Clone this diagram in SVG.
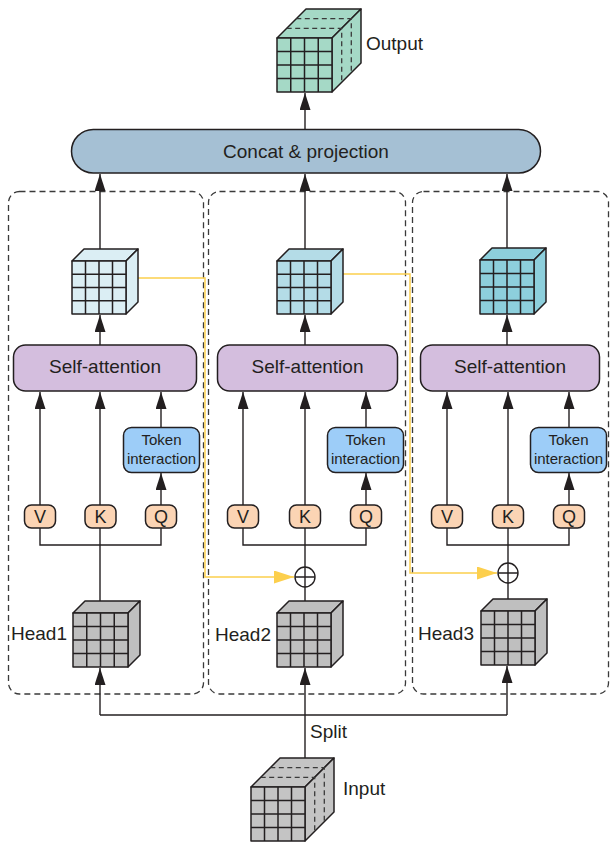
<svg xmlns="http://www.w3.org/2000/svg" width="610" height="843" viewBox="0 0 610 843">
<defs>
<marker id="ah" markerUnits="userSpaceOnUse" viewBox="0 0 17 11" refX="17" refY="5.5" markerWidth="17" markerHeight="11" orient="auto"><path d="M0,0 L17,5.5 L0,11 z" fill="#231f20"/></marker>
<marker id="ay" markerUnits="userSpaceOnUse" viewBox="0 0 20 13" refX="20" refY="6.5" markerWidth="20" markerHeight="13" orient="auto"><path d="M0,0 L20,6.5 L0,13 z" fill="#fccf4d"/></marker>
</defs>
<style>
text{font-family:"Liberation Sans",Arial,sans-serif;fill:#231f20}
.lbl{font-size:19px}
.tk{font-size:15px;text-anchor:middle}
.vkq{font-size:18px;text-anchor:middle}
.cf{stroke:#231f20;stroke-width:1.5;stroke-linejoin:round}
.grid{stroke:#231f20;stroke-width:1.5;fill:none}
.hid{stroke:#3a3a3a;stroke-width:1.3;stroke-dasharray:5 3.5;fill:none}
.con{stroke:#231f20;stroke-width:1.4;fill:none}
.arr{stroke:#231f20;stroke-width:1.4;fill:none;marker-end:url(#ah)}
.yl{stroke:#fccf4d;stroke-width:1.5;fill:none}
.ya{stroke:#fccf4d;stroke-width:1.5;fill:none;marker-end:url(#ay)}
.dbox{fill:none;stroke:#3a3a3a;stroke-width:1.3;stroke-dasharray:6 4}
.sa{fill:#d4bede;stroke:#231f20;stroke-width:1.5}
.tok{fill:#9dcdf8;stroke:#231f20;stroke-width:1.5}
.vb{fill:#fbd4b4;stroke:#231f20;stroke-width:1.5}
</style>

<g id="frames">
<rect class="dbox" x="8.5" y="191.5" width="195" height="502.5" rx="11"/>
<rect class="dbox" x="208.5" y="191.5" width="197" height="502.5" rx="11"/>
<rect class="dbox" x="412.5" y="191.5" width="196" height="502.5" rx="11"/>
</g>

<g id="connectors">
<!-- concat to output -->
<line class="arr" x1="305" y1="129" x2="305" y2="93"/>
<!-- cubes to concat -->
<line class="arr" x1="100" y1="249" x2="100" y2="174"/>
<line class="arr" x1="305" y1="249" x2="305" y2="174"/>
<line class="arr" x1="507" y1="248" x2="507" y2="174"/>
<!-- self-attention to cubes -->
<line class="arr" x1="100" y1="345" x2="100" y2="315"/>
<line class="arr" x1="305" y1="345" x2="305" y2="315"/>
<line class="arr" x1="507" y1="345" x2="507" y2="315"/>
<!-- head1 V K Q -->
<line class="arr" x1="40" y1="505" x2="40" y2="392"/>
<line class="arr" x1="100" y1="505" x2="100" y2="392"/>
<line class="arr" x1="161" y1="427" x2="161" y2="392"/>
<line class="arr" x1="161" y1="505" x2="161" y2="473"/>
<polyline class="con" points="40,528 40,545 161,545 161,528"/>
<line class="con" x1="100" y1="528" x2="100" y2="601"/>
<!-- head2 -->
<line class="arr" x1="243" y1="505" x2="243" y2="392"/>
<line class="arr" x1="305" y1="505" x2="305" y2="392"/>
<line class="arr" x1="366" y1="427" x2="366" y2="392"/>
<line class="arr" x1="366" y1="505" x2="366" y2="473"/>
<polyline class="con" points="243,528 243,545 366,545 366,528"/>
<line class="con" x1="305" y1="528" x2="305" y2="567"/>
<line class="con" x1="305" y1="587" x2="305" y2="601"/>
<!-- head3 -->
<line class="arr" x1="447" y1="505" x2="447" y2="392"/>
<line class="arr" x1="508" y1="505" x2="508" y2="392"/>
<line class="arr" x1="569" y1="427" x2="569" y2="392"/>
<line class="arr" x1="569" y1="505" x2="569" y2="473"/>
<polyline class="con" points="447,528 447,545 569,545 569,528"/>
<line class="con" x1="508" y1="528" x2="508" y2="563"/>
<line class="con" x1="508" y1="583" x2="508" y2="599"/>
<!-- split -->
<line class="arr" x1="305" y1="758" x2="305" y2="668"/>
<polyline class="con" points="100,715 507,715"/>
<line class="arr" x1="100" y1="715" x2="100" y2="668"/>
<line class="arr" x1="507" y1="715" x2="507" y2="666"/>
<!-- yellow token interaction links -->
<polyline class="ya" points="138,278 205,278 205,577 294,577"/>
<polyline class="ya" points="343,274 410,274 410,573 497,573"/>
</g>

<g id="output">
<polygon class="cf" fill="#a5d9c6" points="277,38 306,9 361,9 332,38"/>
<polygon class="cf" fill="#a5d9c6" points="332,38 361,9 361,63 332,92"/>
<path class="hid" d="M286.7,28.3 H341.7 V82.3 M296.3,18.7 H351.3 V72.7"/>
<rect class="cf" fill="#a5d9c6" x="277" y="38" width="55" height="54"/>
<path class="grid" d="M290.75,38 V92 M304.5,38 V92 M318.25,38 V92 M277,51.5 H332 M277,65 H332 M277,78.5 H332"/>
<text class="lbl" x="366" y="50">Output</text>
</g>

<g id="concat">
<rect x="71.5" y="129.5" width="469" height="43.5" rx="21.75" fill="#a5c0d4" stroke="#231f20" stroke-width="1.5"/>
<text class="lbl" x="306" y="158" text-anchor="middle">Concat &amp; projection</text>
</g>

<g id="cube1">
<polygon class="cf" fill="#dbeef4" points="72,261 84,249 138,249 126,261"/>
<polygon class="cf" fill="#dbeef4" points="126,261 138,249 138,302 126,314"/>
<rect class="cf" fill="#dbeef4" x="72" y="261" width="54" height="53"/>
<path class="grid" d="M85.5,261 V314 M99,261 V314 M112.5,261 V314 M72,274.25 H126 M72,287.5 H126 M72,300.75 H126"/>
</g>
<g id="cube2">
<polygon class="cf" fill="#b4dce7" points="277,261 289,249 343,249 331,261"/>
<polygon class="cf" fill="#b4dce7" points="331,261 343,249 343,302 331,314"/>
<rect class="cf" fill="#b4dce7" x="277" y="261" width="54" height="53"/>
<path class="grid" d="M290.5,261 V314 M304,261 V314 M317.5,261 V314 M277,274.25 H331 M277,287.5 H331 M277,300.75 H331"/>
</g>
<g id="cube3">
<polygon class="cf" fill="#8dcfdc" points="480,260 492,248 546,248 534,260"/>
<polygon class="cf" fill="#8dcfdc" points="534,260 546,248 546,302 534,314"/>
<rect class="cf" fill="#8dcfdc" x="480" y="260" width="54" height="54"/>
<path class="grid" d="M493.5,260 V314 M507,260 V314 M520.5,260 V314 M480,273.5 H534 M480,287 H534 M480,300.5 H534"/>
</g>

<g id="selfatt1"><rect class="sa" x="13.5" y="345" width="183" height="46" rx="12"/><text class="lbl" x="105" y="373" text-anchor="middle">Self-attention</text></g>
<g id="selfatt2"><rect class="sa" x="217.5" y="345" width="180" height="46" rx="12"/><text class="lbl" x="307.5" y="373" text-anchor="middle">Self-attention</text></g>
<g id="selfatt3"><rect class="sa" x="420.5" y="345" width="179" height="46" rx="12"/><text class="lbl" x="510" y="373" text-anchor="middle">Self-attention</text></g>

<g id="token1"><rect class="tok" x="123.5" y="427.5" width="76" height="45" rx="8"/><text class="tk" x="161.5" y="445">Token</text><text class="tk" x="161.5" y="464">interaction</text></g>
<g id="token2"><rect class="tok" x="327.5" y="427.5" width="76" height="45" rx="8"/><text class="tk" x="365.5" y="445">Token</text><text class="tk" x="365.5" y="464">interaction</text></g>
<g id="token3"><rect class="tok" x="530.5" y="427.5" width="76" height="45" rx="8"/><text class="tk" x="568.5" y="445">Token</text><text class="tk" x="568.5" y="464">interaction</text></g>

<g id="vkq1">
<rect class="vb" x="24.5" y="505" width="31" height="23" rx="7"/><text class="vkq" x="40" y="523">V</text>
<rect class="vb" x="85" y="505" width="31" height="23" rx="7"/><text class="vkq" x="100.5" y="523">K</text>
<rect class="vb" x="145.5" y="505" width="31" height="23" rx="7"/><text class="vkq" x="161" y="523">Q</text>
</g>
<g id="vkq2">
<rect class="vb" x="227.5" y="505" width="31" height="23" rx="7"/><text class="vkq" x="243" y="523">V</text>
<rect class="vb" x="289.5" y="505" width="31" height="23" rx="7"/><text class="vkq" x="305" y="523">K</text>
<rect class="vb" x="350.5" y="505" width="31" height="23" rx="7"/><text class="vkq" x="366" y="523">Q</text>
</g>
<g id="vkq3">
<rect class="vb" x="431.5" y="505" width="31" height="23" rx="7"/><text class="vkq" x="447" y="523">V</text>
<rect class="vb" x="492.5" y="505" width="31" height="23" rx="7"/><text class="vkq" x="508" y="523">K</text>
<rect class="vb" x="553.5" y="505" width="31" height="23" rx="7"/><text class="vkq" x="569" y="523">Q</text>
</g>

<g id="plus2"><circle cx="305" cy="577" r="10" fill="#fff" stroke="#231f20" stroke-width="1.4"/><path class="con" d="M295,577 H315 M305,567 V587"/></g>
<g id="plus3"><circle cx="508" cy="573" r="10" fill="#fff" stroke="#231f20" stroke-width="1.4"/><path class="con" d="M498,573 H518 M508,563 V583"/></g>

<g id="head1">
<polygon class="cf" fill="#bfbfbf" points="73,613 85,601 140,601 128,613"/>
<polygon class="cf" fill="#bfbfbf" points="128,613 140,601 140,655 128,667"/>
<rect class="cf" fill="#bfbfbf" x="73" y="613" width="55" height="54"/>
<path class="grid" d="M86.75,613 V667 M100.5,613 V667 M114.25,613 V667 M73,626.5 H128 M73,640 H128 M73,653.5 H128"/>
<text class="lbl" x="11" y="640">Head1</text>
</g>
<g id="head2">
<polygon class="cf" fill="#bfbfbf" points="277,613 289,601 343,601 331,613"/>
<polygon class="cf" fill="#bfbfbf" points="331,613 343,601 343,655 331,667"/>
<rect class="cf" fill="#bfbfbf" x="277" y="613" width="54" height="54"/>
<path class="grid" d="M290.5,613 V667 M304,613 V667 M317.5,613 V667 M277,626.5 H331 M277,640 H331 M277,653.5 H331"/>
<text class="lbl" x="215" y="641">Head2</text>
</g>
<g id="head3">
<polygon class="cf" fill="#bfbfbf" points="481,611 493,599 547,599 535,611"/>
<polygon class="cf" fill="#bfbfbf" points="535,611 547,599 547,653 535,665"/>
<rect class="cf" fill="#bfbfbf" x="481" y="611" width="54" height="54"/>
<path class="grid" d="M494.5,611 V665 M508,611 V665 M521.5,611 V665 M481,624.5 H535 M481,638 H535 M481,651.5 H535"/>
<text class="lbl" x="418" y="640">Head3</text>
</g>

<g id="split"><text class="lbl" x="310" y="738">Split</text></g>

<g id="input">
<polygon class="cf" fill="#c4c4c4" points="251,787 280,758 334,758 305,787"/>
<polygon class="cf" fill="#c4c4c4" points="305,787 334,758 334,812 305,841"/>
<path class="hid" d="M260.7,777.3 H314.7 V831.3 M270.3,767.7 H324.3 V821.7"/>
<rect class="cf" fill="#c4c4c4" x="251" y="787" width="54" height="54"/>
<path class="grid" d="M264.5,787 V841 M278,787 V841 M291.5,787 V841 M251,800.5 H305 M251,814 H305 M251,827.5 H305"/>
<text class="lbl" x="343" y="795">Input</text>
</g>
</svg>
